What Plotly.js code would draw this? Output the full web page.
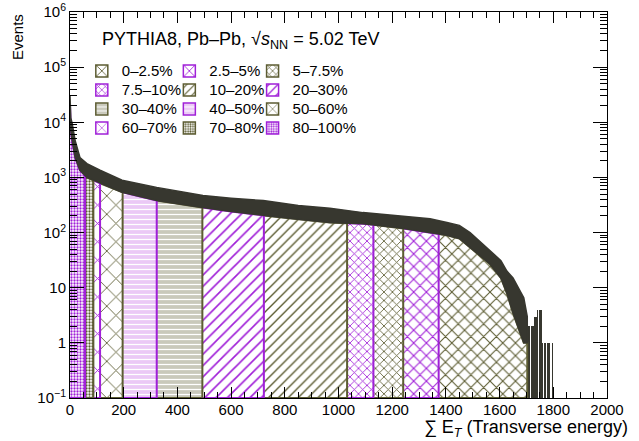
<!DOCTYPE html>
<html><head><meta charset="utf-8">
<script src="https://cdn.plot.ly/plotly-3.0.1.min.js"></script>
<style>html,body{margin:0;padding:0;background:#fff}#chart{width:639px;height:441px}</style>
</head><body><div id="chart"></div>
<script>
// Histogram of summed transverse energy: band envelope
const energy     = [0, 3, 8, 19, 37, 63, 112, 194, 323, 495, 600, 720, 850, 968, 1091, 1218, 1341, 1404, 1450, 1490, 1564, 1605, 1627, 1650, 1690, 1703];
const eventsHigh = [30000, 12000, 9500, 4700, 2300, 1780, 1350, 890, 660, 470, 420, 380, 310, 275, 230, 205, 178, 152, 135, 100, 47, 31, 20, 15, 6.6, 3];
const eventsLow  = [20000, 7000, 4700, 2300, 1350, 1000, 780, 540, 380, 285, 240, 205, 175, 152, 145, 123, 100, 89, 78, 54, 27, 15, 8, 3.5, 1, 1];

// Sparse tail bins beyond the main distribution
const tailEnergy = [1706, 1712, 1718, 1724, 1730, 1736, 1742, 1748, 1754, 1760, 1766, 1772, 1778, 1784, 1790, 1796, 1802];
const tailEvents = [2, 2, 2, 2, 3, 3, 4, 4, 4, 1, 1, 1, 1, 1, null, 1, null];

// Centrality classes
const classLabels = ['0–2.5%', '2.5–5%', '5–7.5%', '7.5–10%', '10–20%', '20–30%', '30–40%', '40–50%', '50–60%', '60–70%', '70–80%', '80–100%'];
const classLow    = [1373, 1241, 1130, 1032, 722, 493, 323, 196, 112, 87, 56, 0];
const classHigh   = [1703, 1373, 1241, 1130, 1032, 722, 493, 323, 196, 112, 87, 56];

const yTickValues = [0.1, 1, 10, 100, 1000, 10000, 100000, 1000000];
const yTickLabels = ['10<sup>−1</sup>', '1', '10', '10<sup>2</sup>', '10<sup>3</sup>', '10<sup>4</sup>', '10<sup>5</sup>', '10<sup>6</sup>'];

// ---- styles ----
const OLIVE = '#5c5c32', PURPLE = '#a020d8', BAND = '#37372f';
const FONT = 'Liberation Sans, Arial, Helvetica, sans-serif';
const classStyle = [
  {c: OLIVE,  shape: 'x', size: 9,  sol: 0.22},
  {c: PURPLE, shape: 'x', size: 9,  sol: 0.22},
  {c: OLIVE,  shape: 'x', size: 6,  sol: 0.26},
  {c: PURPLE, shape: 'x', size: 6,  sol: 0.26},
  {c: OLIVE,  shape: '/', size: 7,  sol: 0.2},
  {c: PURPLE, shape: '/', size: 8,  sol: 0.2},
  {c: OLIVE,  shape: '-', size: 5,  sol: 0.25, fg: '#ffffff', bg: '#c9c9bb'},
  {c: PURPLE, shape: '-', size: 5,  sol: 0.25, fg: '#ffffff', bg: '#ebc9f6'},
  {c: OLIVE,  shape: 'x', size: 13, sol: 0.13},
  {c: PURPLE, shape: 'x', size: 13, sol: 0.13},
  {c: OLIVE,  shape: '.', size: 3,  sol: 0.45},
  {c: PURPLE, shape: '.', size: 3,  sol: 0.45}
];
function patternOf(s) {
  return {shape: s.shape, fgcolor: s.fg || s.c, bgcolor: s.bg || '#ffffff', size: s.size, solidity: s.sol, fillmode: 'replace'};
}

// lower envelope at an arbitrary energy (log interpolation between read points)
function lowAt(e) {
  for (let i = 0; i < energy.length - 1; i++) {
    if (e >= energy[i] && e <= energy[i + 1]) {
      const t = (e - energy[i]) / (energy[i + 1] - energy[i]);
      return Math.pow(10, Math.log10(eventsLow[i]) + t * (Math.log10(eventsLow[i + 1]) - Math.log10(eventsLow[i])));
    }
  }
  return eventsLow[eventsLow.length - 1];
}
const yMin = yTickValues[0];

const traces = [];
// class regions
classLabels.forEach((lab, i) => {
  const a = classLow[i], b = classHigh[i];
  const xs = [a], ys = [lowAt(a)];
  energy.forEach((e, k) => { if (e > a && e < b) { xs.push(e); ys.push(eventsLow[k]); } });
  xs.push(b, b, a); ys.push(lowAt(b), yMin, yMin);
  const s = classStyle[i];
  traces.push({
    type: 'scatter', mode: 'lines', x: xs, y: ys, fill: 'toself',
    fillcolor: s.bg || '#ffffff', fillpattern: patternOf(s),
    line: {color: s.c, width: 2}, showlegend: false, hoverinfo: 'skip'
  });
});
// histogram band
traces.push({
  type: 'scatter', mode: 'lines',
  x: energy.concat(energy.slice().reverse()),
  y: eventsHigh.concat(eventsLow.slice().reverse()),
  fill: 'toself', fillcolor: BAND, line: {color: BAND, width: 1.5},
  showlegend: false, hoverinfo: 'skip'
});
// tail bins
traces.push({
  type: 'bar', x: tailEnergy, y: tailEvents, width: 5,
  marker: {color: BAND, line: {width: 0}}, showlegend: false, hoverinfo: 'skip'
});
// legend entries (three columns)
const legendIds = ['legend', 'legend2', 'legend3'];
classLabels.forEach((lab, i) => {
  const s = classStyle[i];
  traces.push({
    type: 'bar', x: [null], y: [null], name: '<span style="font-size:15px">' + lab + '</span>', legend: legendIds[i % 3],
    marker: {color: s.bg || '#ffffff', pattern: patternOf(s), line: {color: s.c, width: 1.5}},
    hoverinfo: 'skip'
  });
});

function legendAt(x) {
  return {x: x, y: 0.885, xanchor: 'left', yanchor: 'top', bgcolor: 'rgba(0,0,0,0)',
          font: {family: FONT, size: 12, color: '#000'}, traceorder: 'normal', itemclick: false};
}

const layout = {
  width: 639, height: 441,
  margin: {l: 70, r: 32, t: 12, b: 43},
  paper_bgcolor: '#fff', plot_bgcolor: '#fff',
  font: {family: FONT, size: 15, color: '#000'},
  barmode: 'overlay', bargap: 0,
  showlegend: true,
  legend: legendAt(0.022), legend2: legendAt(0.185), legend3: legendAt(0.34),
  xaxis: {
    range: [0, 2000], dtick: 200, tick0: 0, ticks: 'inside', ticklen: 11, tickwidth: 1,
    tickcolor: '#000', showline: true, linecolor: '#000', linewidth: 1, mirror: 'allticks',
    showgrid: false, zeroline: false, tickfont: {size: 15}, ticklabelstandoff: -2,
    minor: {ticks: 'inside', ticklen: 6, dtick: 50, tick0: 0, tickcolor: '#000', showgrid: false}
  },
  yaxis: {
    type: 'log', range: [-1, 6], tickmode: 'array', tickvals: yTickValues, ticktext: yTickLabels,
    ticks: 'inside', ticklen: 14, tickwidth: 1, tickcolor: '#000', showline: true, linecolor: '#000',
    linewidth: 1, mirror: 'allticks', showgrid: false, zeroline: false, tickfont: {size: 15},
    minor: {ticks: 'inside', ticklen: 7, tickcolor: '#000', showgrid: false, tickmode: 'array',
      tickvals: (() => { const v = []; for (let d = -1; d < 6; d++) for (let k = 2; k <= 9; k++) v.push(k * Math.pow(10, d)); return v; })()}
  },
  annotations: [
    {xref: 'paper', yref: 'paper', x: 0.056, y: 0.927, xanchor: 'left', yanchor: 'middle', showarrow: false,
     text: 'PYTHIA8, Pb–Pb, √<i>s</i><sub>NN</sub> = 5.02 TeV', font: {size: 18}},
    {xref: 'paper', yref: 'paper', x: 1.043, y: -0.08, xanchor: 'right', yanchor: 'middle', showarrow: false,
     text: '∑ E<sub><i>T</i></sub> (Transverse energy)', font: {size: 18}},
    {xref: 'paper', yref: 'paper', x: -0.0987, y: 1.0, xanchor: 'center', yanchor: 'top', showarrow: false,
     textangle: -90, text: 'Events', font: {size: 15}}
  ]
};

Plotly.newPlot('chart', traces, layout, {displayModeBar: false, staticPlot: true});
</script>
</body></html>
